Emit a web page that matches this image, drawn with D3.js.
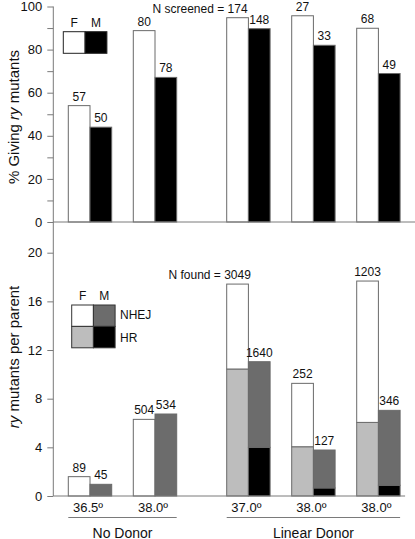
<!DOCTYPE html>
<html><head><meta charset="utf-8">
<script src="https://cdn.jsdelivr.net/npm/d3@7"></script>
<style>body{margin:0;background:#fff} text{font-family:"Liberation Sans",Arial,sans-serif;fill:#111;white-space:pre}</style>
</head><body><svg id="c" width="415" height="539"></svg>
<script>
// ---- data ----
const groups = ["36.5º","38.0º","37.0º","38.0º","38.0º"];
const donors = ["No Donor","No Donor","Linear Donor","Linear Donor","Linear Donor"];
const sexes = ["F","M"];
// top panel: % giving ry mutants
const pctF = [54.0, 88.8, 94.8, 95.7, 89.9];
const pctM = [44.0, 67.1, 89.7, 82.0, 68.9];
const screenedF = [57, 80, 174, 27, 68];
const screenedM = [50, 78, 148, 33, 49];
// bottom panel: ry mutants per parent (HR bottom, NHEJ on top)
const hrF   = [0, 0, 10.44, 4.05, 6.05];
const nhejF = [1.59, 6.30, 6.98, 5.21, 11.62];
const hrM   = [0, 0, 4.00, 0.66, 0.88];
const nhejM = [0.96, 6.74, 7.04, 3.12, 6.16];
const foundF = [89, 504, 3049, 252, 1203];
const foundM = [45, 534, 1640, 127, 346];
const topTicks = [0,10,20,30,40,50,60,70,80,90,100];
const botTicks = [0,4,8,12,16,20];

// ---- layout ----
const svg = d3.select("#c");
const axisX = 53.3;
const yTop = d3.scaleLinear().domain([0,100]).range([222,6.5]);
const yBot = d3.scaleLinear().domain([0,20]).range([496,252.7]);
const slot = d3.scaleLinear().domain([0,1]).range([68.3,133.3]);
const donorGap = 28.4;
const gx = i => slot(i) + (donors[i] === "Linear Donor" ? donorGap : 0);
const inner = d3.scaleBand().domain(sexes).range([0,43.4]);
const bw = inner.bandwidth();
const stroke = "#6a6a6a";
const axisCol = "#7a7a7a";
const col = {F:{NHEJ:"#ffffff", HR:"#bdbdbd"}, M:{NHEJ:"#6c6c6c", HR:"#000000"}};

// ---- top panel bars ----
const topData = [];
groups.forEach((g,i)=>{
  topData.push({i, s:"F", v:pctF[i], n:screenedF[i]});
  topData.push({i, s:"M", v:pctM[i], n:screenedM[i]});
});
svg.append("g").selectAll("rect").data(topData).join("rect")
  .attr("x", d=>gx(d.i)+inner(d.s)).attr("width", bw)
  .attr("y", d=>yTop(d.v)).attr("height", d=>yTop(0)-yTop(d.v))
  .attr("fill", d=>d.s==="F"?"#fff":"#000")
  .attr("stroke", stroke).attr("stroke-width",1);

svg.append("g").selectAll("text").data(topData).join("text")
  .attr("x", d=>gx(d.i)+inner(d.s)+bw/2).attr("y", d=>yTop(d.v)-5)
  .attr("text-anchor","middle").attr("font-size",12)
  .text(d=>d.n)
  .each(function(d){
    if(d.i===2 && d.s==="F"){
      const w=this.getComputedTextLength();
      d3.select(this.parentNode).append("text")
        .attr("x", gx(d.i)+inner(d.s)+bw/2-w/2).attr("y", yTop(d.v)-5)
        .attr("text-anchor","end").attr("font-size",12).text("N screened =\u00a0");
    }
  });

// ---- bottom panel bars ----
const botData = [];
groups.forEach((g,i)=>{
  botData.push({i, s:"F", hr:hrF[i], nhej:nhejF[i], n:foundF[i]});
  botData.push({i, s:"M", hr:hrM[i], nhej:nhejM[i], n:foundM[i]});
});
const segs = [];
botData.forEach(d=>{
  if(d.hr>0) segs.push({i:d.i, s:d.s, type:"HR", y0:0, y1:d.hr});
  segs.push({i:d.i, s:d.s, type:"NHEJ", y0:d.hr, y1:d.hr+d.nhej});
});
svg.append("g").selectAll("rect").data(segs).join("rect")
  .attr("x", d=>gx(d.i)+inner(d.s)).attr("width", bw)
  .attr("y", d=>yBot(d.y1)).attr("height", d=>yBot(d.y0)-yBot(d.y1))
  .attr("fill", d=>col[d.s][d.type])
  .attr("stroke", stroke).attr("stroke-width",1);

svg.append("g").selectAll("text").data(botData).join("text")
  .attr("x", d=>gx(d.i)+inner(d.s)+bw/2).attr("y", d=>yBot(d.hr+d.nhej)-5)
  .attr("text-anchor","middle").attr("font-size",12)
  .text(d=>d.n)
  .each(function(d){
    if(d.i===2 && d.s==="F"){
      const w=this.getComputedTextLength();
      d3.select(this.parentNode).append("text")
        .attr("x", gx(d.i)+inner(d.s)+bw/2-w/2).attr("y", yBot(d.hr+d.nhej)-5)
        .attr("text-anchor","end").attr("font-size",12).text("N found =\u00a0");
    }
  });

// ---- axes ----
const aTop = svg.append("g").attr("transform",`translate(${axisX},0)`)
  .call(d3.axisLeft(yTop).tickValues(topTicks).tickFormat(d=>d%20===0?d:"").tickSize(6).tickPadding(5));
const aBot = svg.append("g").attr("transform",`translate(${axisX},0)`)
  .call(d3.axisLeft(yBot).tickValues(botTicks).tickSize(6).tickPadding(5));
[aTop,aBot].forEach(a=>{
  a.select(".domain").remove();
  a.selectAll("line").attr("stroke",axisCol);
  a.selectAll("text").attr("font-size",13).attr("font-family",'"Liberation Sans",Arial,sans-serif').attr("fill","#111");
});
svg.append("line").attr("x1",axisX).attr("x2",axisX).attr("y1",yTop(100)).attr("y2",yBot(0)).attr("stroke",axisCol);
svg.append("line").attr("x1",axisX).attr("x2",415).attr("y1",yTop(0)).attr("y2",yTop(0)).attr("stroke",axisCol);
svg.append("line").attr("x1",axisX).attr("x2",gx(4)+43.4+5).attr("y1",yBot(0)).attr("y2",yBot(0)).attr("stroke",axisCol);

// y titles
const t1 = svg.append("text").attr("transform","translate(19,117) rotate(-90)").attr("text-anchor","middle").attr("font-size",15);
t1.append("tspan").text("% Giving ");
t1.append("tspan").attr("font-style","italic").text("ry");
t1.append("tspan").text(" mutants");
const t2 = svg.append("text").attr("transform","translate(19,357) rotate(-90)").attr("text-anchor","middle").attr("font-size",15);
t2.append("tspan").attr("font-style","italic").text("ry");
t2.append("tspan").text(" mutants per parent");

// x labels
svg.append("g").selectAll("text").data(groups).join("text")
  .attr("x",(d,i)=>gx(i)+21.7-2).attr("y",511.5).attr("text-anchor","middle").attr("font-size",13).text(d=>d);
const donorNames = Array.from(new Set(donors));
donorNames.forEach(n=>{
  const idx = donors.map((d,i)=>d===n?i:-1).filter(i=>i>=0);
  const x0 = gx(idx[0]), x1 = gx(idx[idx.length-1])+43.4;
  svg.append("line").attr("x1",x0).attr("x2",x1).attr("y1",517.5).attr("y2",517.5).attr("stroke",axisCol);
  svg.append("text").attr("x",(x0+x1)/2).attr("y",537.5).attr("text-anchor","middle").attr("font-size",14).text(n);
});

// ---- legends ----
const lg1 = svg.append("g");
sexes.forEach((s,k)=>{
  lg1.append("rect").attr("x",63.3+k*21.8).attr("y",31.7).attr("width",21.8).attr("height",21.6)
    .attr("fill",s==="F"?"#fff":"#000").attr("stroke","#222");
  lg1.append("text").attr("x",63.3+k*21.8+10.9).attr("y",26.5).attr("text-anchor","middle").attr("font-size",12).text(s);
});
const types = ["NHEJ","HR"];
const lg2 = svg.append("g");
sexes.forEach((s,k)=>{
  lg2.append("text").attr("x",71.7+k*21.7+10.85).attr("y",299.5).attr("text-anchor","middle").attr("font-size",12).text(s);
  types.forEach((t,j)=>{
    lg2.append("rect").attr("x",71.7+k*21.7).attr("y",305+j*21.4).attr("width",21.7).attr("height",21.4)
      .attr("fill",col[s][t]).attr("stroke","#333");
  });
});
types.forEach((t,j)=>{
  lg2.append("text").attr("x",120).attr("y",318.5+j*23).attr("font-size",12).text(t);
});
</script></body></html>
